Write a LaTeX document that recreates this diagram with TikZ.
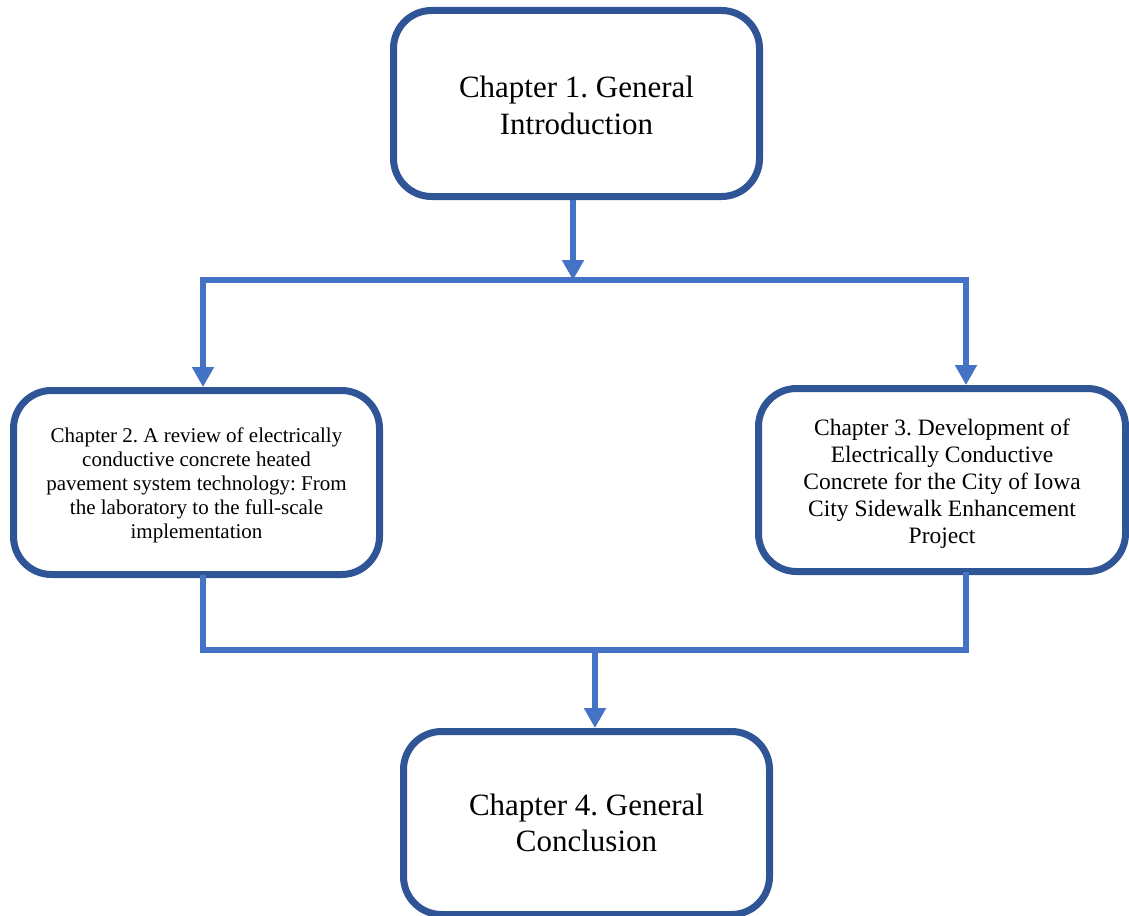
\documentclass[tikz,border=0pt]{standalone}
\usepackage{fontspec}
\setmainfont{Liberation Serif}
\usetikzlibrary{arrows.meta}
\definecolor{boxblue}{HTML}{2F5597}
\definecolor{linkblue}{HTML}{4472C4}
% #1: downward shift of the text block
\newcommand{\chaptext}[2]{\raisebox{0pt}[\dimexpr\height+2\dimexpr#1\relax\relax][\depth]{\parbox{340pt}{\centering #2}}}
\begin{document}
\frenchspacing
\begin{tikzpicture}[x=1pt,y=-1pt,
  chapbox/.style={draw=boxblue, line width=7pt, rounded corners=38pt, fill=white,
    align=center, inner sep=0pt},
  link/.style={draw=linkblue, line width=6.5pt},
  arr/.style={link, -{Triangle[length=20pt,width=21pt]}}]
\useasboundingbox (0,0) rectangle (1129,915);
\fill[white] (0,0) rectangle (1129,915);

\node[chapbox, minimum width=366pt, minimum height=186pt,
  font=\fontsize{31}{36.5}\selectfont] (c1) at (576.5,103.5)
  {\chaptext{2pt}{Chapter 1. General\\Introduction}};
\node[chapbox, minimum width=366pt, minimum height=184pt,
  font=\fontsize{21}{24}\selectfont] (c2) at (196.5,482.5)
  {\chaptext{3pt}{Chapter 2. A review of electrically\\conductive concrete heated\\pavement system technology: From\\the laboratory to the full-scale\\implementation}};
\node[chapbox, minimum width=367pt, minimum height=183pt,
  font=\fontsize{23.5}{27}\selectfont] (c3) at (942,480)
  {\chaptext{4pt}{Chapter 3. Development of\\Electrically Conductive\\Concrete for the City of Iowa\\City Sidewalk Enhancement\\Project}};
\node[chapbox, minimum width=366pt, minimum height=183pt,
  font=\fontsize{31}{36.5}\selectfont] (c4) at (586.5,823)
  {\chaptext{0pt}{Chapter 4. General\\Conclusion}};

\coordinate (top) at (573,280);
\coordinate (hl) at (203,280);
\coordinate (hr) at (966,280);
\coordinate (bl) at (203,650);
\coordinate (br) at (966,650);
\coordinate (bm) at (595,650);

\draw[arr] (c1.south -| top) -- (top);
\draw[link, line cap=rect] (hl) -- (hr);
\draw[arr] (hl) -- (hl |- c2.north);
\draw[arr] (hr) -- (hr |- c3.north);
\draw[link, line cap=rect] (c2.south -| bl) -- (bl) -- (br) -- (c3.south -| br);
\draw[arr] (bm) -- (bm |- c4.north);
\end{tikzpicture}
\end{document}
